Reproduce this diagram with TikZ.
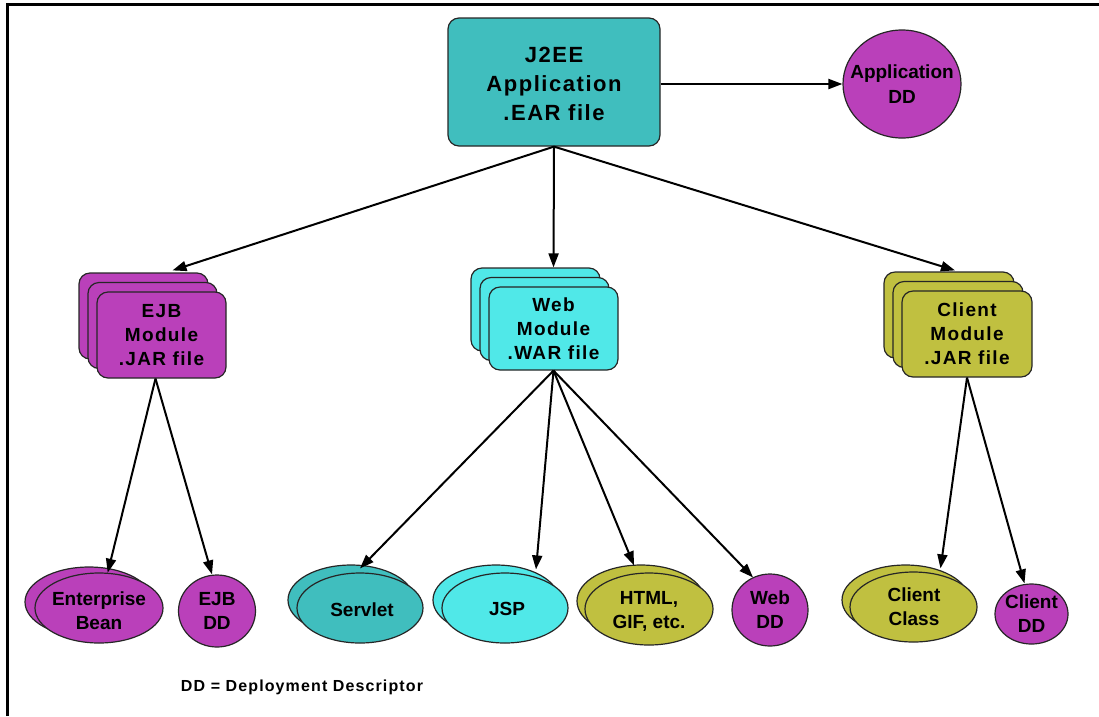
\documentclass[tikz,border=0pt]{standalone}
\usepackage{fontspec}
\setmainfont{Liberation Sans}
\newfontfamily\spaced{Liberation Sans}[LetterSpace=7]
\usetikzlibrary{shapes.geometric,arrows.meta,calc}
\definecolor{cTeal}{RGB}{64,190,190}
\definecolor{cCyan}{RGB}{80,232,232}
\definecolor{cMag}{RGB}{186,64,186}
\definecolor{cOlive}{RGB}{192,192,64}
\tikzset{
  box/.style={draw=black!85, line width=1.2pt, rounded corners=11pt, inner sep=0pt, align=center},
  oval/.style={ellipse, draw=black!85, line width=1.2pt, inner sep=0pt},
  ovaltext/.style={inner sep=0pt, align=center, font=\bfseries\fontsize{19}{24}\selectfont},
  arr/.style={line width=2pt, -{Triangle[length=14pt,width=10pt]}},
  boxtext/.style={font=\spaced\bfseries\fontsize{19}{24}\selectfont},
}
\begin{document}
\begin{tikzpicture}[x=1pt,y=-1pt]
\useasboundingbox (0,0) rectangle (1099,716);
% frame
\draw[line width=3pt] (7,716) -- (7,4) -- (1099,4);

% top level
\node[box, fill=cTeal, minimum width=212, minimum height=128] (j2ee) at (554,82) {};
\node[inner sep=0pt, align=center, font=\spaced\bfseries\fontsize{22}{29}\selectfont]
      (j2eeT) at (554,84) {J2EE\\Application\\.EAR file};
\node[oval, fill=cMag, minimum width=118, minimum height=108] (appdd) at (902,84) {};
\node[ovaltext, font=\bfseries\fontsize{19}{25}\selectfont] (appddT) at (appdd) {Application\\DD};

% module stacks
\foreach \n/\c/\x/\y/\w/\h in {ejb/cMag/161.5/335/129/86, web/cCyan/553.5/328.5/129/83, cli/cOlive/967/334/130/86}{
  \node[box, fill=\c, minimum width=\w, minimum height=\h] (\n C) at (\x-18,\y-19) {};
  \node[box, fill=\c, minimum width=\w, minimum height=\h] (\n B) at (\x-9,\y-9.5) {};
}
\node[box, boxtext, fill=cMag, minimum width=129, minimum height=86] (ejbA) at (161.5,335) {EJB\\Module\\.JAR file};
\node[box, boxtext, fill=cCyan, minimum width=129, minimum height=83] (webA) at (553.5,328.5) {Web\\Module\\.WAR file};
\node[box, boxtext, fill=cOlive, minimum width=130, minimum height=86] (cliA) at (967,334) {Client\\Module\\.JAR file};

% leaf items
\node[oval, fill=cMag, minimum width=128, minimum height=70] (beanB) at (89,602) {};
\node[oval, fill=cMag, minimum width=128, minimum height=70] (bean) at (99,608) {};
\node[ovaltext] (beanT) at (99,611) {Enterprise\\Bean};
\node[oval, fill=cMag, minimum width=77, minimum height=72] (ejbdd) at (217,611) {};
\node[ovaltext] (ejbddT) at (ejbdd) {EJB\\DD};
\node[oval, fill=cTeal, minimum width=126, minimum height=70] (servletB) at (351,600) {};
\node[oval, fill=cTeal, minimum width=126, minimum height=70] (servlet) at (360,608) {};
\node[ovaltext] (servletT) at (362,610) {Servlet};
\node[oval, fill=cCyan, minimum width=126, minimum height=70] (jspB) at (496,600) {};
\node[oval, fill=cCyan, minimum width=126, minimum height=70] (jsp) at (505,608) {};
\node[ovaltext] (jspT) at (507,609) {JSP};
\node[oval, fill=cOlive, minimum width=128, minimum height=72] (htmlB) at (641,601) {};
\node[oval, fill=cOlive, minimum width=128, minimum height=72] (html) at (649,609) {};
\node[ovaltext] (htmlT) at (649,611) {HTML,\\GIF, etc.};
\node[oval, fill=cMag, minimum width=76, minimum height=72] (webdd) at (770,610) {};
\node[ovaltext] (webddT) at (webdd) {Web\\DD};
\node[oval, fill=cOlive, minimum width=127, minimum height=70] (clsB) at (905.5,600) {};
\node[oval, fill=cOlive, minimum width=127, minimum height=70] (cls) at (913.5,607) {};
\node[ovaltext] (clsT) at (914,607) {Client\\Class};
\node[oval, fill=cMag, minimum width=73, minimum height=60] (clidd) at (1031.5,614) {};
\node[ovaltext] (cliddT) at (clidd) {Client\\DD};

% legend
\node[font=\spaced\bfseries\fontsize{16}{18}\selectfont] (legend) at (302,687) {DD = Deployment Descriptor};

% connectors
\draw[arr] (j2ee.east |- appdd) -- (appdd.west);
\draw[arr] (j2ee.south) -- ($(ejbC.north)+(29,-2)$);
\draw[arr] (j2ee.south) -- (webA.north |- webC.north);
\draw[arr] (j2ee.south) -- ($(cliC.north)+(6,-1)$);

\draw[arr] ($(ejbA.south)+(-6,0)$) -- (bean);
\draw[arr] ($(ejbA.south)+(-6,0)$) -- ($(ejbdd.north)+(-5,0)$);

\draw[arr] (webA.south) -- ($(servlet.north)+(0,-4)$);
\draw[arr] (webA.south) -- ($(jsp.north)+(31,-3)$);
\draw[arr] (webA.south) -- ($(html.north)+(-15,-7)$);
\draw[arr] (webA.south) -- ($(webdd.north)+(-17,4)$);

\draw[arr] (cliA.south) -- ($(cls.north)+(27,-3)$);
\draw[arr] (cliA.south) -- ($(clidd.north)+(-7,0)$);
\end{tikzpicture}
\end{document}
